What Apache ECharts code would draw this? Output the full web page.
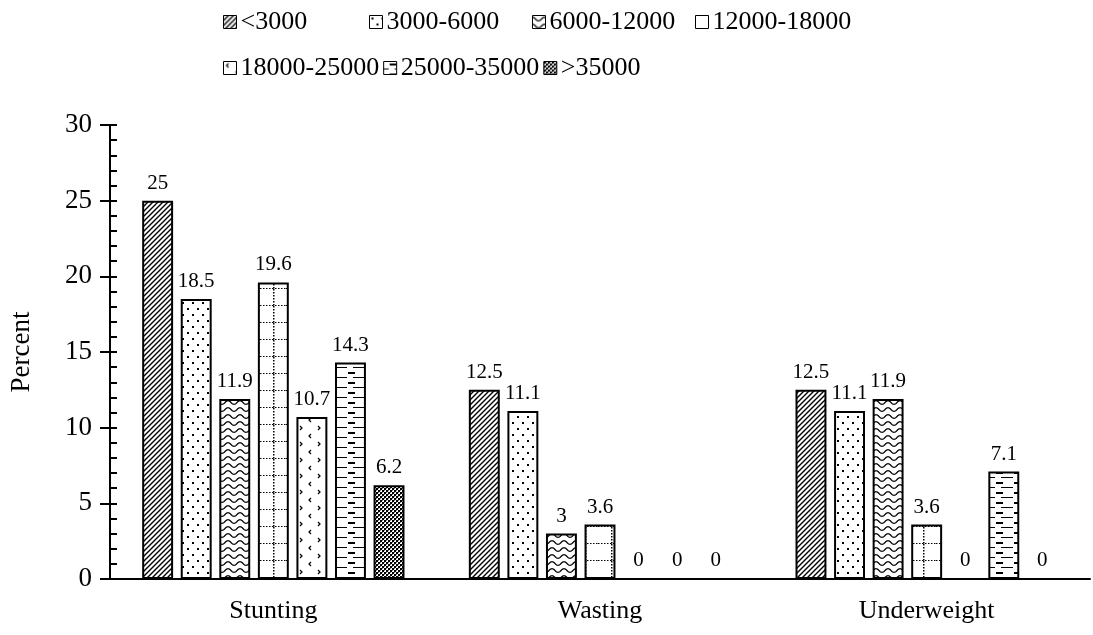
<!DOCTYPE html>
<html>
<head>
<meta charset="utf-8">
<script src="https://cdn.jsdelivr.net/npm/echarts@6/dist/echarts.min.js"></script>
<style>
  html, body { margin: 0; padding: 0; background: #fff; }
  #chart { width: 1093px; height: 635px; }
</style>
</head>
<body>
<div id="chart"></div>
<script>
// Prevalence of undernutrition by monthly household income group
const categories = ['Stunting', 'Wasting', 'Underweight'];
const incomeGroups = ['<3000', '3000-6000', '6000-12000', '12000-18000', '18000-25000', '25000-35000', '>35000'];
const valuesLt3000 = [25, 12.5, 12.5];
const values3000to6000 = [18.5, 11.1, 11.1];
const values6000to12000 = [11.9, 3, 11.9];
const values12000to18000 = [19.6, 3.6, 3.6];
const values18000to25000 = [10.7, 0, 0];
const values25000to35000 = [14.3, 0, 7.1];
const valuesGt35000 = [6.2, 0, 0];
const yTicks = [0, 5, 10, 15, 20, 25, 30];

const seriesValues = [valuesLt3000, values3000to6000, values6000to12000,
  values12000to18000, values18000to25000, values25000to35000, valuesGt35000];

const FONT = '"Liberation Serif", "Times New Roman", serif';

// Monochrome fill patterns, one per income group
function tile(w, h, draw) {
  const c = document.createElement('canvas');
  c.width = w; c.height = h;
  const g = c.getContext('2d');
  g.fillStyle = '#fff';
  g.fillRect(0, 0, w, h);
  g.fillStyle = '#000';
  g.strokeStyle = '#000';
  draw(g, w, h);
  return { image: c, repeat: 'repeat' };
}

const patterns = [
  // diagonal hatch
  tile(5, 5, (g) => {
    g.lineWidth = 1.4;
    g.beginPath();
    g.moveTo(-1, 6); g.lineTo(6, -1);
    g.moveTo(-1, 1); g.lineTo(1, -1);
    g.moveTo(4, 6); g.lineTo(6, 4);
    g.stroke();
  }),
  // sparse dots
  tile(10, 12, (g) => {
    g.fillRect(2, 2, 2, 2);
    g.fillRect(7, 8, 2, 2);
  }),
  // waves
  tile(12, 7, (g) => {
    g.lineWidth = 1.3;
    g.beginPath();
    for (let x = 0; x <= 12; x += 0.5) {
      const y = 3.5 - 1.8 * Math.cos((x / 12) * Math.PI * 2);
      if (x === 0) g.moveTo(x, y); else g.lineTo(x, y);
    }
    g.stroke();
  }),
  // dotted grid
  tile(26, 17, (g) => {
    for (let y = 0; y < 17; y += 3) g.fillRect(13, y, 1.5, 1.5);
    for (let x = 0; x < 26; x += 3) g.fillRect(x, 16, 1.5, 1.5);
  }),
  // small chevrons
  tile(18, 16, (g) => {
    g.lineWidth = 1.2;
    g.beginPath();
    g.moveTo(5, 2); g.lineTo(3, 4); g.lineTo(5, 6);
    g.moveTo(12, 10); g.lineTo(14, 12); g.lineTo(12, 14);
    g.stroke();
  }),
  // horizontal dashes
  tile(18, 10, (g) => {
    g.fillRect(6, 2, 7, 2);
    g.fillRect(0, 7, 5, 1);
    g.fillRect(11, 7, 7, 1);
  }),
  // dense cross-hatch
  tile(4, 4, (g) => {
    g.fillRect(0, 0, 2, 2);
    g.fillRect(2, 2, 2, 2);
    g.fillStyle = '#777';
    g.fillRect(2, 0, 1, 1);
    g.fillRect(0, 2, 1, 1);
  })
];

const series = incomeGroups.map((name, i) => ({
  name: name,
  type: 'bar',
  yAxisIndex: 0,
  barGap: '24.7%',
  barCategoryGap: '19.7%',
  data: seriesValues[i],
  itemStyle: { color: patterns[i], borderColor: '#000', borderWidth: 2 },
  label: {
    show: true, position: 'top', distance: 7,
    fontFamily: FONT, fontSize: 21, color: '#000',
    formatter: (p) => String(p.value)
  }
}));

// legend: first row spread out, second row packed
const legendBase = {
  padding: 0,
  icon: 'rect',
  itemWidth: 13,
  itemHeight: 13,
  itemStyle: { borderColor: '#000', borderWidth: 1 },
  textStyle: { fontFamily: FONT, fontSize: 26, color: '#000', padding: [0, 0, 0, -1] },
  selectedMode: false
};
const firstRowLeft = [223, 369, 532, 695];
const legends = firstRowLeft.map((left, i) => Object.assign({}, legendBase, {
  data: [incomeGroups[i]], left: left, top: 9
}));
legends.push(Object.assign({}, legendBase, {
  data: incomeGroups.slice(4), left: 223, top: 55, itemGap: 4
}));

const chart = echarts.init(document.getElementById('chart'), null, { renderer: 'canvas' });
chart.setOption({
  animation: false,
  backgroundColor: '#fff',
  legend: legends,
  grid: { left: 108, right: 3, top: 125, bottom: 56, containLabel: false },
  xAxis: {
    type: 'category',
    data: categories,
    axisLine: { show: true, lineStyle: { color: '#000', width: 2 } },
    axisTick: { show: false },
    axisLabel: { fontFamily: FONT, fontSize: 26, color: '#000', margin: 19 }
  },
  yAxis: [
    {
      type: 'value',
      min: yTicks[0], max: yTicks[yTicks.length - 1], interval: 5,
      position: 'left',
      name: 'Percent',
      nameLocation: 'middle',
      nameGap: 75,
      nameTextStyle: { fontFamily: FONT, fontSize: 27, color: '#000' },
      axisLine: { show: true, lineStyle: { color: '#000', width: 2 } },
      axisTick: { show: true, inside: false, length: 10, lineStyle: { color: '#000', width: 2 } },
      axisLabel: { fontFamily: FONT, fontSize: 27, color: '#000', margin: 18 },
      splitLine: { show: false }
    },
    {
      type: 'value',
      min: yTicks[0], max: yTicks[yTicks.length - 1], interval: 1,
      position: 'left',
      axisLine: { show: false },
      axisTick: { show: true, inside: true, length: 7, lineStyle: { color: '#000', width: 2 } },
      axisLabel: { show: false },
      splitLine: { show: false }
    }
  ],
  series: series
});
</script>
</body>
</html>
